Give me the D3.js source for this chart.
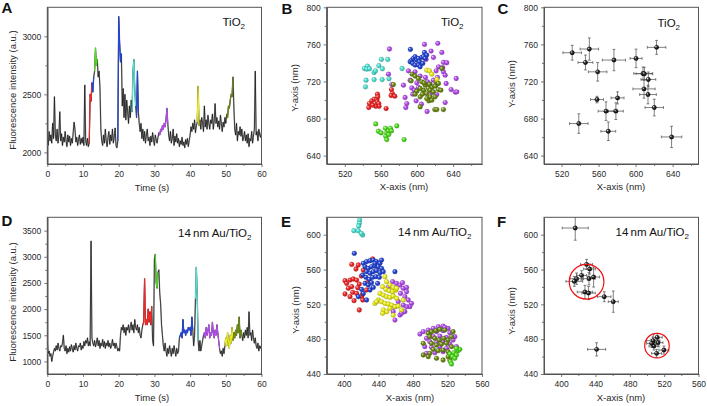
<!DOCTYPE html>
<html><head><meta charset="utf-8">
<script src="https://cdn.jsdelivr.net/npm/d3@7"></script>
<style>
body{margin:0;background:#fff}
svg{display:block}
text{font-family:"Liberation Sans",Arial,sans-serif}
</style>
</head><body>
<svg id="c" width="707" height="406"></svg>
<script>
// ---------------- DATA ----------------
const STEP = 0.25; // seconds between trace samples
const timeTicks = [0,10,20,30,40,50,60];
const timeMinor = [5,15,25,35,45,55];
const traceA = [
2120,2060,2180,2100, 2150,2080,2250,2120, 2480,2150,2100,2200, 2080,2150,2350,2100,
2160,2060,2130,2090, 2180,2100,2050,2150, 2090,2140,2060,2120, 2080,2170,2260,2200,
2090,2130,2060,2110, 2150,2070,2120,2080, 2130,2060,2580,2100, 2060,2120,2050,2080,
2500,2440,2600,2520, 2650,2700,2900,2750, 2800,2650,2700,2560, 2200,2100,2060,2150,
2080,2200,2100,2050, 2130,2180,2070,2150, 2100,2200,2080,2130, 2210,2060,2040,2100,
3170,2950,2780,2850, 2400,2550,2300,2500, 2280,2450,2350,2250, 2400,2300,2450,2350,
2700,2800,2550,2400, 2300,2700,2350,2250, 2180,2250,2120,2200, 2100,2180,2080,2150,
2200,2100,2130,2060, 2140,2090,2170,2110, 2060,2150,2110,2080, 2130,2170,2150,2200,
2180,2230,2200,2250, 2220,2280,2380,2250, 2150,2100,2180,2080, 2120,2200,2060,2140,
2090,2160,2080,2120, 2050,2100,2070,2130, 2060,2090,2040,2110, 2070,2120,2050,2100,
2150,2220,2180,2250, 2200,2280,2170,2230, 2260,2570,2230,2280, 2200,2300,2250,2180,
2400,2220,2280,2200, 2320,2250,2200,2280, 2250,2330,2200,2270, 2420,2250,2300,2220,
2270,2200,2320,2250, 2180,2260,2220,2300, 2250,2330,2300,2400, 2380,2450,2500,2480,
2650,2400,2200,2150, 2250,2100,2180,2150, 2220,2140,2200,2100, 2130,2180,2100,2150,
2080,2160,2050,2120, 2100,2180,2080,2140, 2200,2700,2150,2180, 2100,2200,2150,2130,
2180];
const traceD = [
1400,1150,1200,1100, 1150,1000,1100,1180, 1250,1200,1300,1220, 1350,1250,1200,1300,
1280,1350,1500,1250, 1200,1300,1150,1250, 1180,1280,1200,1320, 1250,1180,1300,1220,
1350,1250,1200,1300, 1280,1350,1220,1300, 1250,1380,1300,1400, 1350,1450,1300,1380,
1300,3300,1450,1350, 1300,1400,1280,1350, 1450,1300,1400,1250, 1350,1300,1420,1280,
1380,1250,1350,1300, 1400,1280,1350,1250, 1300,1420,1300,1350, 1250,1350,1280,1200,
1250,1200,1500,1650, 1600,1700,1550,1650, 1500,1650,1600,1700, 1550,1650,1750,1600,
1700,1550,1800,1650, 1600,1700,1550,1650, 1500,1450,1600,1700, 1750,2580,1700,1800,
1700,2000,1750,1950, 1700,2050,1400,1300, 2950,3050,2500,2400, 2700,2750,2300,2100,
1700,1500,1300,1200, 1350,1200,1100,1250, 1150,1300,1200,1100, 1250,1150,1300,1200,
1100,1250,1150,1200, 1450,1500,1550,1450, 1800,1550,1600,1500, 1600,1550,1650,1600,
1650,1500,1850,1600, 1300,1500,2200,2800, 2250,1400,1200,1400, 1200,1300,1400,1500,
1550,1450,1650,1500, 1600,1700,1450,1550, 1500,1750,1550,1450, 1600,1500,1700,1550,
1400,1250,1150,1200, 1100,1250,1150,1300, 1450,1300,1550,1400, 1250,1500,1350,1650,
1400,1550,1450,1600, 1500,1700,1550,1850, 1450,1600,1500,1400, 1550,1450,1600,1500,
1650,1450,1950,1500, 1550,1400,1600,1450, 1350,1450,1300,1250, 1350,1200,1300,1250,
1300];
// highlighted time windows: [colour, start s, end s]
const segmentsA = [["red",11.75,12.5],["blue",12.5,13],["green",13.25,14],["blue",19.75,20.75],
  ["cyan",23.75,24.75],["blue",25,25.5],["purple",31.25,33.75],["yellow",42,42.5],["olive",50.25,52]];
const segmentsD = [["red",26.75,29.25],["green",30.25,31],["blue",37,40.75],["cyan",41.5,42.25],
  ["purple",43.75,48.25],["yellow",49.75,52],["olive",52,54.5]];
const ticksYA = [2000,2500,3000], minorYA = [2250,2750];
const ticksYD = [1000,1500,2000,2500,3000,3500], minorYD = [1250,1750,2250,2750,3250];
const ticksXB = [520,560,600,640], minorXB = [540,580,620,660];
const ticksYB = [640,680,720,760,800], minorYB = [660,700,740,780];
const ticksXE = [400,440,480,520,560], minorXE = [420,460,500,540];
const ticksYE = [440,480,520,560,600], minorYE = [460,500,540,580];

// panel B: localisation points (x nm, y nm)
const B_cyan = [[541.8,734],[545.1,736.6],[544.4,733.3],[543.6,721.4],[547.3,733.7],[542.9,714.2],[552.5,729.7],[554,731.5],[552.5,722],[557.7,737],[560.6,743.8],[561.7,733.7],[567.6,743.8],[561.4,722],[569,722.9],[583.5,734]];
const B_red = [[546.6,691.9],[547.3,696.2],[549.9,699.1],[552.5,700.9],[555.5,700.5],[556.2,706.3],[556.6,703.4],[555.8,698],[557.7,696.2],[558,693.3],[554.3,693.3],[551,694.4],[565.8,690.8],[571.7,711.3],[572.8,707],[571.3,704.9],[575.4,704.1]];
const B_green = [[554.3,674.2],[557.3,666.3],[560.3,664.5],[565.1,669.5],[566.5,664.5],[568.4,666.7],[570.6,669.5],[571.7,666.7],[565.4,660.9],[566.5,657.3],[568.7,662.7],[577.6,672.1],[585.7,657.3]];
const B_purple = [[569.5,755],[608.3,760],[615.6,752.8],[623,761.1],[627.5,751.3],[610.1,743.8],[618.2,745.9],[629.3,740.5],[633,740.2],[623.8,735.8],[628.6,734.8],[621.2,731.5],[629.3,730.4],[622.7,724.3],[631.2,726.8],[643.4,723.2],[618.2,721.4],[611.6,719.6],[609.4,724.3],[603.5,725.8],[597.9,730.4],[590.5,731.5],[585,716],[572.1,716.7],[568.4,727.9],[592.4,721.4],[594.2,713.1],[597.2,710.6],[586.8,702.7],[588.7,696.2],[587.6,691.9],[599,699.1],[604.9,695.5],[611.2,687.6],[621.9,705.9],[631.2,697.3],[637.8,711.3],[642.6,708.5],[644.1,708.8],[616.4,708.1],[599.8,718.5],[620.8,716],[614.5,717.1],[601.6,713.5],[613.8,701.6],[595.3,706.3],[632.3,717.8]];
const B_olive = [[594.6,727.9],[597.9,725.8],[601.6,723.2],[605.3,719.6],[593.5,720.7],[609,716],[613.8,717.1],[616.4,713.5],[620.1,715],[621.2,719.6],[623.8,717.8],[612.7,712.4],[614.5,710.6],[607.2,710.6],[603.5,712.4],[599.8,709.5],[597.9,706.3],[603.5,703.4],[610.8,707],[614.5,703.4],[613.1,699.1],[618.2,708.8],[623.8,711.3],[626.4,710.6],[620.1,703.4],[610.8,701.6],[603.5,692.6],[619.7,689.7],[621.9,689.7],[629.3,689.7],[573.9,716.7],[627.5,734],[607.9,718.5],[606,706.3],[616.4,699.8]];
const B_blue = [[592.7,754.6],[592.4,741.3],[594.2,743.1],[596.1,744.9],[597.9,746.7],[599.8,743.1],[601.6,744.9],[602.7,741.3],[605.3,745.9],[608.3,751.3],[607.2,746.7],[609,744.9],[595.3,739.5],[597.9,737.7],[601.6,737.7],[603.5,735.8],[606.4,739.5],[610.8,748.5]];
const B_yellow = [[610.8,732.2],[613.8,731.5],[616.4,727.9],[622,722.2]];

// panel C: mean positions with errors [x, y, xerr, yerr]
const C_points = [[531.5,751,10,8],[550,755,10,12],[545.8,740.5,8,8],[559,730.4,10,10],[576.6,743.1,12.5,11.5],[600.5,744.9,6.5,10],[622.7,756.8,10,7.5],[608,728.6,10,7],[609.5,728.3,9,7],[613.8,722.2,8,8],[609.1,712,12,10],[613.4,705.9,9,10],[620.2,691.9,10,9],[638.9,660.2,11,11.5],[558.3,700.5,7,3.5],[580.5,702.3,7,6.5],[568,688,8.5,10],[578.7,688,8,9],[570.5,666.3,8,10],[538.6,674.6,10,10.5]];

// panel E
const E_cyan = [[418.2,616.8],[417.8,613],[417.1,610],[411.5,604.6],[416.6,604.6],[421.7,599.6],[420.1,601.5]];
const E_red = [[401.2,547.2],[403.2,544.1],[407,547.9],[410.8,549.1],[401.2,531.9],[407,528.8],[411.7,524.2],[417.8,513.5],[410.1,533.8],[414.7,532.6],[420.5,528.8],[421.7,531.9],[426.2,536.5],[417.8,543.3],[409,565.9],[416.6,565.2],[422.4,559.4],[413.9,560.6],[415.9,539.1],[427.1,544.9],[433.2,572.1],[421.7,525],[409,540.3],[405,538.4],[414.7,547.9],[420.1,552.5]];
const E_blue = [[412,578.6],[422.4,567.1],[426.2,569],[430.2,570.1],[434,570.9],[437.8,569],[441.7,567.1],[424.4,563.3],[428.2,561.3],[432,563.3],[435.9,564],[439.8,563.3],[443.6,561.3],[426.2,557.5],[430.2,555.6],[434,557.5],[437.8,558.7],[441.7,556.4],[421.7,553.7],[425.5,551],[429.4,548.7],[433.2,551],[437.1,551.8],[441,551],[424.4,544.1],[428.2,542.2],[432,544.9],[420.5,537.2],[422.4,532.6],[426.2,525],[416.6,528.8],[445.6,557.5],[459.1,557.5],[430.2,536.5],[439,544.1],[434,539.5],[443.6,570.9],[435.9,567.1]];
const E_purple = [[461,544.1],[464.9,542.2],[468.7,538.4],[472.6,534.5],[465.6,532.6],[470.6,528.8],[474.5,525],[478.3,521.1],[476.4,517.3],[472.6,517.3],[468.7,519.2],[462.9,523.1],[459.1,517.3],[457.1,511.6],[464.9,507.7],[459.1,502],[466.8,509.7],[470.6,511.6],[456.4,546],[451.4,539.5],[467.9,544.9],[472.6,539.5],
  [488,485.9],[491.9,488.6],[497.7,490.5],[503.5,492.4],[509.3,494.3],[514.9,495.1],[520.7,492.4],[499.5,486.7],[507.3,488.6],[514.9,489.8],[522.7,487.5],[528.5,482.9],[495.7,481],[503.5,482.9],[511.1,483.6],[518.9,482.1],[526.5,479],[499.5,477.1],[507.3,476],[514.9,477.1],[522.7,474.4],[493.7,471.4],[501.5,470.6],[511.1,471.4],[518.9,469.5],[495.7,463.7],[505.3,464.5],[514.9,465.6],[530.4,471.4],[516.9,493.6]];
const E_yellow = [[447.5,551.8],[449.4,546],[453.3,542.2],[457.1,539.5],[444.8,540.3],[448.6,537.2],[452.5,535.7],[456.4,534.5],[460.2,536.5],[441.7,532.6],[445.6,530.7],[449.4,528.8],[453.3,528],[457.1,529.6],[461,526.9],[439.8,525],[443.6,523.1],[447.5,521.1],[451.4,520.4],[455.2,519.2],[459.1,517.3],[462.9,518.1],[445.6,513.5],[449.4,511.6],[457.1,507.7],[453.3,515.4],[435.9,521.1],[461,538.4],[468.7,525],[466.8,513.5],[437.8,523.1],[444.8,509.7]];
const E_olive = [[497.7,486.7],[501.5,488.6],[506.5,489.8],[511.1,491.3],[516.9,490.5],[499.5,482.9],[505.3,481],[510.4,479],[515.8,481],[520.7,479],[524.7,482.9],[501.5,475.2],[507.3,473.3],[513.1,474.4],[518.9,475.2],[524.7,471.4],[503.5,468.3],[509.3,466.8],[514.9,467.5],[520.7,465.6],[499.5,463.7],[491.9,461.8],[497.7,459.9],[507.3,458],[514.9,456.1],[522.7,456.1],[491.9,475.2],[526.5,488.6],[520.7,459.9]];
const E_green = [[522.7,463],[527.4,464.5],[532.3,466.8],[534.3,468.3],[530.4,469.5],[525.8,459.9],[530.4,461.8],[523.4,454.2],[524.7,451.5],[528.5,458]];

// panel F
const F_points = [[416.4,607.7,15.2,14],[429.6,565.9,7,5.7],[433.2,560.6,7,5.7],[423.8,553.3,5.8,5.4],[418,549.5,7.8,6.5],[415.3,546.4,9.7,5.7],[432.4,549.5,7,7],[437.8,551.4,7,11.5],[427.7,534.2,9,7.6],[431.9,533,7.8,7.6],[450.2,528.8,7.8,5.7],[460.7,523.1,5.8,12.2],[441.3,468.3,10.5,7.6],[507.3,478.3,7.8,7.6],[511.9,482.1,5.8,4.6],[512.8,476,5.8,4.6],[508.1,472.1,5.8,4.6],[519.7,467.5,5.8,4.6],[511.2,463.7,5.8,4.6],[505.4,475.2,5.8,4.6]];
// cluster circles: [cx nm, cy nm, radius nm]
const F_circles = [[429.6,546,20.2],[511.6,472.5,14.3]];

// ---------------- DRAW ----------------
const COL = {red:"#f42626",blue:"#2345d8",green:"#4ddf1c",cyan:"#4be3d2",purple:"#b54cef",yellow:"#ecec1a",olive:"#6b8a10"};
const svg = d3.select("#c");
const defs = svg.append("defs");
Object.entries(COL).forEach(([k,c])=>{
  const g = defs.append("radialGradient").attr("id","g-"+k).attr("cx","0.45").attr("cy","0.45").attr("r","0.6").attr("fx","0.32").attr("fy","0.3");
  g.append("stop").attr("offset","0").attr("stop-color",d3.interpolateRgb(c,"#fff")(0.75));
  g.append("stop").attr("offset","0.45").attr("stop-color",c);
  g.append("stop").attr("offset","1").attr("stop-color",d3.color(c).darker(0.9));
});
{
  const g = defs.append("radialGradient").attr("id","g-black").attr("cx","0.45").attr("cy","0.45").attr("r","0.6").attr("fx","0.3").attr("fy","0.3");
  g.append("stop").attr("offset","0").attr("stop-color","#f4f4f4");
  g.append("stop").attr("offset","0.4").attr("stop-color","#333");
  g.append("stop").attr("offset","1").attr("stop-color","#000");
}

const AX = "#555", TXT = "#2a2a2a";
let clipN = 0;
function panel(c){
  const g = svg.append("g");
  const x = d3.scaleLinear().domain(c.xd).range([c.l,c.r]);
  const y = d3.scaleLinear().domain(c.yd).range([c.b,c.t]);
  const id = "clip"+(clipN++);
  defs.append("clipPath").attr("id",id).append("rect").attr("x",c.l).attr("y",c.t).attr("width",c.r-c.l).attr("height",c.b-c.t);
  const styleAxis = s=>{
    s.select(".domain").attr("stroke",AX).attr("stroke-width",1);
    s.selectAll(".tick line").attr("stroke",AX).attr("stroke-width",0.8);
    s.selectAll(".tick text").attr("fill",TXT).attr("font-size","8.5px").attr("font-family","Liberation Sans, Arial, sans-serif");
  };
  g.append("g").attr("transform",`translate(0,${c.b})`)
    .call(d3.axisBottom(x).tickValues(c.xt).tickSize(3).tickSizeOuter(0).tickPadding(3.5).tickFormat(d3.format("d"))).call(styleAxis);
  g.append("g").attr("transform",`translate(0,${c.b})`)
    .call(d3.axisBottom(x).tickValues(c.xm).tickSize(2).tickSizeOuter(0).tickFormat("")).call(styleAxis);
  g.append("g").attr("transform",`translate(${c.l},0)`)
    .call(d3.axisLeft(y).tickValues(c.yt).tickSize(3).tickSizeOuter(0).tickPadding(3).tickFormat(d3.format("d"))).call(styleAxis);
  g.append("g").attr("transform",`translate(${c.l},0)`)
    .call(d3.axisLeft(y).tickValues(c.ym).tickSize(2).tickSizeOuter(0).tickFormat("")).call(styleAxis);
  g.append("rect").attr("x",c.l).attr("y",c.t).attr("width",c.r-c.l).attr("height",c.b-c.t)
    .attr("fill","none").attr("stroke",AX).attr("stroke-width",1);
  svg.append("text").attr("x",c.lx).attr("y",c.ly).attr("font-size","15px").attr("font-weight","bold").attr("fill","#111").text(c.letter);
  svg.append("text").attr("x",c.xtx).attr("y",c.xty).attr("text-anchor","middle").attr("font-size","9.5px").attr("fill",TXT).text(c.xlab);
  svg.append("text").attr("transform",`translate(${c.ytx},${c.yty}) rotate(-90)`).attr("text-anchor","middle").attr("font-size","9.5px").attr("fill",TXT).text(c.ylab);
  const t = svg.append("text").attr("x",c.ax).attr("y",c.ay).attr("font-size","11.5px").attr("fill","#111");
  t.append("tspan").text(c.ann);
  t.append("tspan").attr("dy",3).attr("font-size","8px").text("2");
  const plot = g.append("g").attr("clip-path",`url(#${id})`);
  return {g,plot,x,y};
}

function trace(p, data, segs){
  const pts = data.map((v,i)=>[i*STEP, v]);
  const line = d3.line().x(d=>p.x(d[0])).y(d=>p.y(d[1]));
  p.plot.append("path").datum(pts).attr("d",line).attr("fill","none").attr("stroke","#b4b4b4").attr("stroke-width",1.5).attr("stroke-linejoin","round");
  p.plot.append("path").datum(pts).attr("d",line).attr("fill","none").attr("stroke","#111").attr("stroke-width",0.75).attr("stroke-linejoin","round");
  segs.forEach(([c,t0,t1])=>{
    const sub = pts.filter(d=>d[0]>=t0-1e-9 && d[0]<=t1+1e-9);
    p.plot.append("path").datum(sub).attr("d",line).attr("fill","none").attr("stroke",COL[c]).attr("stroke-width",1.1).attr("stroke-linejoin","round");
  });
}
function balls(p, pts, c){
  p.plot.append("g").selectAll("circle").data(pts).join("circle")
    .attr("cx",d=>p.x(d[0])).attr("cy",d=>p.y(d[1])).attr("r",2.4)
    .attr("fill",`url(#g-${c})`).attr("stroke",d3.color(COL[c]).darker(1.2)).attr("stroke-width",0.25);
}
function errpts(p, pts){
  const g = p.plot.append("g");
  const cap = 1.4;
  pts.forEach(([x,y,ex,ey])=>{
    const cx=p.x(x), cy=p.y(y), x0=p.x(x-ex), x1=p.x(x+ex), y0=p.y(y-ey), y1=p.y(y+ey);
    const d = `M${x0},${cy}H${x1}M${cx},${y0}V${y1}M${x0},${cy-cap}V${cy+cap}M${x1},${cy-cap}V${cy+cap}M${cx-cap},${y0}H${cx+cap}M${cx-cap},${y1}H${cx+cap}`;
    g.append("path").attr("d",d).attr("stroke","#555").attr("stroke-width",0.75).attr("fill","none");
  });
  g.selectAll("circle").data(pts).join("circle").attr("cx",d=>p.x(d[0])).attr("cy",d=>p.y(d[1])).attr("r",2.2)
    .attr("fill","url(#g-black)").attr("stroke","#000").attr("stroke-width",0.3);
}

const pA = panel({l:47.3,r:261.5,t:7.3,b:164,xd:[0,60],yd:[1900,3250],xt:timeTicks,xm:timeMinor,yt:ticksYA,ym:minorYA,
  letter:"A",lx:1.5,ly:13,xlab:"Time (s)",xtx:152,xty:191,ylab:"Fluorescence intensity (a.u.)",ytx:15.5,yty:90,ann:"TiO",ax:222.5,ay:26});
trace(pA, traceA, segmentsA);
const pB = panel({l:326.7,r:482,t:7.3,b:164,xd:[500,672],yd:[631,800],xt:ticksXB,xm:minorXB,yt:ticksYB,ym:minorYB,
  letter:"B",lx:281.5,ly:14,xlab:"X-axis (nm)",xtx:404,xty:190,ylab:"Y-axis (nm)",ytx:298,yty:88,ann:"TiO",ax:441,ay:26});
balls(pB,B_cyan,"cyan"); balls(pB,B_red,"red"); balls(pB,B_green,"green"); balls(pB,B_purple,"purple");
balls(pB,B_olive,"olive"); balls(pB,B_blue,"blue"); balls(pB,B_yellow,"yellow");
const pC = panel({l:544,r:698.5,t:7.3,b:164,xd:[501,668],yd:[631,800],xt:ticksXB,xm:minorXB,yt:ticksYB,ym:minorYB,
  letter:"C",lx:497.5,ly:14,xlab:"X-axis (nm)",xtx:621,xty:190,ylab:"Y-axis (nm)",ytx:515,yty:84,ann:"TiO",ax:657.5,ay:26.5});
errpts(pC, C_points);
const pD = panel({l:47.3,r:261.5,t:217.3,b:374,xd:[0,60],yd:[760,3755],xt:timeTicks,xm:timeMinor,yt:ticksYD,ym:minorYD,
  letter:"D",lx:1.5,ly:226,xlab:"Time (s)",xtx:152,xty:401,ylab:"Fluorescence intensity (a.u.)",ytx:15.5,yty:302,ann:"14\u2009nm Au/TiO",ax:178,ay:236.5});
trace(pD, traceD, segmentsD);
const pE = panel({l:326.7,r:482,t:217.3,b:374,xd:[380,560],yd:[440,620],xt:ticksXE,xm:minorXE,yt:ticksYE,ym:minorYE,
  letter:"E",lx:281,ly:226.5,xlab:"X-axis (nm)",xtx:410,xty:401,ylab:"Y-axis (nm)",ytx:299,yty:310,ann:"14\u2009nm Au/TiO",ax:398,ay:236});
balls(pE,E_red,"red"); balls(pE,E_blue,"blue"); balls(pE,E_purple,"purple"); balls(pE,E_yellow,"yellow");
balls(pE,E_olive,"olive"); balls(pE,E_green,"green"); balls(pE,E_cyan,"cyan");
const pF = panel({l:544,r:698.5,t:217.3,b:374,xd:[380,560],yd:[440,620],xt:ticksXE,xm:minorXE,yt:ticksYE,ym:minorYE,
  letter:"F",lx:497,ly:226.5,xlab:"X-axis (nm)",xtx:621,xty:401,ylab:"Y-axis (nm)",ytx:515,yty:311,ann:"14\u2009nm Au/TiO",ax:615.5,ay:236});
errpts(pF, F_points);
pF.plot.append("g").selectAll("circle").data(F_circles).join("circle")
  .attr("cx",d=>pF.x(d[0])).attr("cy",d=>pF.y(d[1])).attr("r",d=>pF.x(d[0]+d[2])-pF.x(d[0]))
  .attr("fill","none").attr("stroke","#f01010").attr("stroke-width",1.2);
</script>
</body></html>
